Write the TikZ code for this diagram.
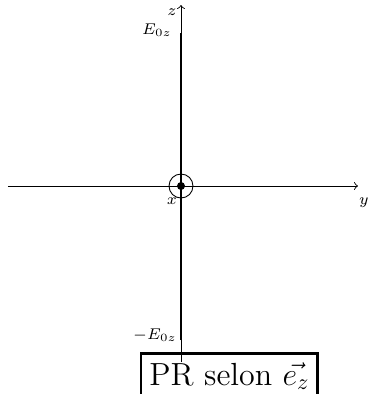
\documentclass[tikz,border=0pt]{standalone}
\usepackage{tikz}
\usepackage{xcolor}
\definecolor{axisFg}{HTML}{000000}

\begin{document}
\begin{tikzpicture}[x=0.45pt,y=0.45pt]
          \useasboundingbox (-181,-208) rectangle (188,186);
          \coordinate (O) at (0,0);
          \coordinate (yMin) at (-173,0);
          \coordinate (yMax) at (177,0);
          \coordinate (zMin) at (0,-176);
          \coordinate (zMax) at (0,181);
          \coordinate (Eplus) at (0,153);
          \coordinate (Eminus) at (0,-154);
          \draw[->, draw=axisFg] (yMin) -- (yMax);
          \draw[->, draw=axisFg] (zMin) -- (zMax);
          \draw[line width=1.2pt, draw=axisFg] (Eminus) -- (Eplus);
          \draw[draw=axisFg] (O) circle (12);
          \fill[axisFg] (O) circle (4);
          \node[font=\scriptsize] (zLabel) at (-9,174) {$z$};
          \node[font=\scriptsize] (yLabel) at (183,-17) {$y$};
          \node[font=\scriptsize] (xLabel) at (-9,-15) {$x$};
          \node[font=\scriptsize] (EplusLabel) at (-24,156) {$E_{0z}$};
          \node[font=\scriptsize] (EminusLabel) at (-26,-149) {$-E_{0z}$};
          \node[draw, line width=1.3pt, font=\Large, minimum width=79.6pt,
            text height=10.9pt, text depth=8pt, anchor=base]
            (prBox) at (48.5,-199) {PR selon $\vec{e_z}$};
        \end{tikzpicture}
\end{document}
